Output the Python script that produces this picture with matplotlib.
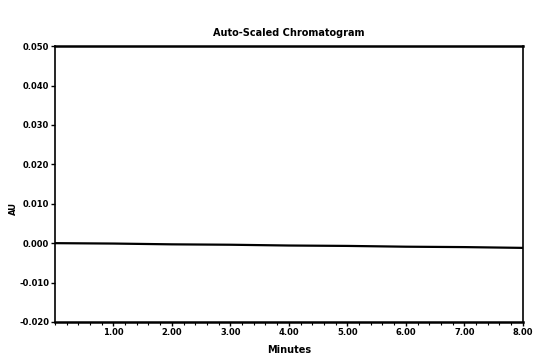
import numpy as np
import matplotlib
matplotlib.use("Agg")
import matplotlib.pyplot as plt
from matplotlib.ticker import MultipleLocator, FormatStrFormatter

# lectura del cromatograma (linea base casi plana)
minutos = [0.0, 1.0, 2.0, 3.0, 4.0, 5.0, 6.0, 7.0, 8.0]
au = [0.0000, -0.0001, -0.0003, -0.0004, -0.0006, -0.0007, -0.0009, -0.0010, -0.0012]
x_ticks = [1.0, 2.0, 3.0, 4.0, 5.0, 6.0, 7.0, 8.0]
y_ticks = [-0.020, -0.010, 0.000, 0.010, 0.020, 0.030, 0.040, 0.050]

plt.rcParams['font.family'] = ['Liberation Sans Narrow', 'DejaVu Sans']

fig = plt.figure(figsize=(5.33, 3.63), dpi=100)
ax = fig.add_axes([0.103, 0.113, 0.878, 0.760])

ax.plot(minutos, au, color='black', lw=1.6)

ax.set_xlim(0, 8.0)
ax.set_ylim(-0.020, 0.050)
ax.set_xticks(x_ticks)
ax.set_yticks(y_ticks)
ax.xaxis.set_minor_locator(MultipleLocator(0.2))
ax.xaxis.set_major_formatter(FormatStrFormatter('%.2f'))
ax.yaxis.set_major_formatter(FormatStrFormatter('%.3f'))
ax.tick_params(axis='both', direction='out', labelsize=6, width=1, length=3, pad=1)
ax.tick_params(axis='x', which='minor', direction='out', length=2, width=0.8)
for lbl in ax.get_xticklabels() + ax.get_yticklabels():
    lbl.set_fontweight('bold')

for s in ax.spines.values():
    s.set_linewidth(1.2)
ax.spines['top'].set_linewidth(1.8)
ax.spines['bottom'].set_linewidth(1.8)

ax.set_title('Auto-Scaled Chromatogram', fontsize=7, fontweight='bold', pad=7)
ax.set_xlabel('Minutes', fontsize=7, fontweight='bold')
ax.set_ylabel('AU', fontsize=6, fontweight='bold')
ax.xaxis.set_label_coords(0.5, -0.085)
ax.yaxis.set_label_coords(-0.078, 0.41)

fig.savefig('out.png', dpi=100)
